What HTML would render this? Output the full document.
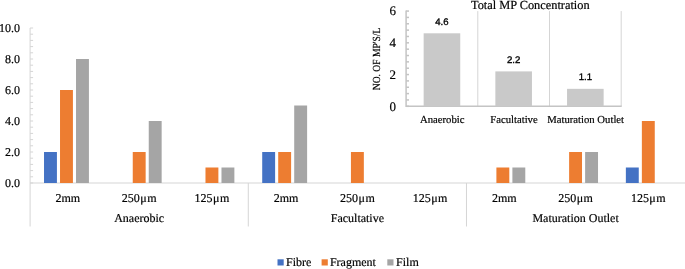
<!DOCTYPE html>
<html lang="en"><head><meta charset="utf-8"><title>Chart</title><style>html,body{margin:0;padding:0;background:#fff}body{width:685px;height:269px;overflow:hidden}</style></head><body>
<svg width="685" height="269" viewBox="0 0 685 269" text-rendering="geometricPrecision" style="display:block;font-family:'Liberation Serif','Times New Roman',serif">
<rect width="685" height="269" fill="#fff"/>
<g stroke="#D5D5D5" stroke-width="1" fill="none">
<line x1="30.1" y1="28.00" x2="30.1" y2="183.00"/>
<line x1="30.1" y1="183.00" x2="685" y2="183.00"/>
<line x1="30.1" y1="183.00" x2="33.1" y2="183.00"/>
<line x1="30.1" y1="176.80" x2="33.1" y2="176.80"/>
<line x1="30.1" y1="170.60" x2="33.1" y2="170.60"/>
<line x1="30.1" y1="164.40" x2="33.1" y2="164.40"/>
<line x1="30.1" y1="158.20" x2="33.1" y2="158.20"/>
<line x1="30.1" y1="152.00" x2="33.1" y2="152.00"/>
<line x1="30.1" y1="145.80" x2="33.1" y2="145.80"/>
<line x1="30.1" y1="139.60" x2="33.1" y2="139.60"/>
<line x1="30.1" y1="133.40" x2="33.1" y2="133.40"/>
<line x1="30.1" y1="127.20" x2="33.1" y2="127.20"/>
<line x1="30.1" y1="121.00" x2="33.1" y2="121.00"/>
<line x1="30.1" y1="114.80" x2="33.1" y2="114.80"/>
<line x1="30.1" y1="108.60" x2="33.1" y2="108.60"/>
<line x1="30.1" y1="102.40" x2="33.1" y2="102.40"/>
<line x1="30.1" y1="96.20" x2="33.1" y2="96.20"/>
<line x1="30.1" y1="90.00" x2="33.1" y2="90.00"/>
<line x1="30.1" y1="83.80" x2="33.1" y2="83.80"/>
<line x1="30.1" y1="77.60" x2="33.1" y2="77.60"/>
<line x1="30.1" y1="71.40" x2="33.1" y2="71.40"/>
<line x1="30.1" y1="65.20" x2="33.1" y2="65.20"/>
<line x1="30.1" y1="59.00" x2="33.1" y2="59.00"/>
<line x1="30.1" y1="52.80" x2="33.1" y2="52.80"/>
<line x1="30.1" y1="46.60" x2="33.1" y2="46.60"/>
<line x1="30.1" y1="40.40" x2="33.1" y2="40.40"/>
<line x1="30.1" y1="34.20" x2="33.1" y2="34.20"/>
<line x1="30.1" y1="28.00" x2="33.1" y2="28.00"/>
<line x1="30.10" y1="183.00" x2="30.10" y2="226.5"/>
<line x1="248.29" y1="183.00" x2="248.29" y2="226.5"/>
<line x1="466.48" y1="183.00" x2="466.48" y2="226.5"/>
</g>
<rect x="44.02" y="152.00" width="12.9" height="31.00" fill="#4472C4"/>
<rect x="60.02" y="90.00" width="12.9" height="93.00" fill="#ED7D31"/>
<rect x="76.02" y="59.00" width="12.9" height="124.00" fill="#A5A5A5"/>
<rect x="132.75" y="152.00" width="12.9" height="31.00" fill="#ED7D31"/>
<rect x="148.75" y="121.00" width="12.9" height="62.00" fill="#A5A5A5"/>
<rect x="205.48" y="167.50" width="12.9" height="15.50" fill="#ED7D31"/>
<rect x="221.48" y="167.50" width="12.9" height="15.50" fill="#A5A5A5"/>
<rect x="262.21" y="152.00" width="12.9" height="31.00" fill="#4472C4"/>
<rect x="278.21" y="152.00" width="12.9" height="31.00" fill="#ED7D31"/>
<rect x="294.21" y="105.50" width="12.9" height="77.50" fill="#A5A5A5"/>
<rect x="350.94" y="152.00" width="12.9" height="31.00" fill="#ED7D31"/>
<rect x="496.40" y="167.50" width="12.9" height="15.50" fill="#ED7D31"/>
<rect x="512.39" y="167.50" width="12.9" height="15.50" fill="#A5A5A5"/>
<rect x="569.12" y="152.00" width="12.9" height="31.00" fill="#ED7D31"/>
<rect x="585.12" y="152.00" width="12.9" height="31.00" fill="#A5A5A5"/>
<rect x="625.86" y="167.50" width="12.9" height="15.50" fill="#4472C4"/>
<rect x="641.86" y="121.00" width="12.9" height="62.00" fill="#ED7D31"/>
<g font-size="12" fill="#000" stroke="#000" stroke-width="0.18" text-anchor="end">
<text x="20" y="187.00">0.0</text>
<text x="20" y="156.00">2.0</text>
<text x="20" y="125.00">4.0</text>
<text x="20" y="94.00">6.0</text>
<text x="20" y="63.00">8.0</text>
<text x="20" y="32.00">10.0</text>
</g>
<g font-size="12" fill="#000" stroke="#000" stroke-width="0.18" text-anchor="middle">
<text x="67.87" y="202">2mm</text>
<text x="139.19" y="202">250<tspan dx="0.4">μ</tspan><tspan dx="0.5">m</tspan></text>
<text x="211.93" y="202">125<tspan dx="0.4">μ</tspan><tspan dx="0.5">m</tspan></text>
<text x="286.06" y="202">2mm</text>
<text x="357.39" y="202">250<tspan dx="0.4">μ</tspan><tspan dx="0.5">m</tspan></text>
<text x="430.12" y="202">125<tspan dx="0.4">μ</tspan><tspan dx="0.5">m</tspan></text>
<text x="504.25" y="202">2mm</text>
<text x="575.58" y="202">250<tspan dx="0.4">μ</tspan><tspan dx="0.5">m</tspan></text>
<text x="648.31" y="202">125<tspan dx="0.4">μ</tspan><tspan dx="0.5">m</tspan></text>
<text x="139.19" y="222">Anaerobic</text>
<text x="357.39" y="222">Facultative</text>
<text x="575.58" y="222">Maturation Outlet</text>
</g>
<g font-size="12" fill="#000" stroke="#000" stroke-width="0.18">
<rect x="277.5" y="259.3" width="6.2" height="6.2" stroke="none" fill="#4472C4"/><text x="286" y="266">Fibre</text>
<rect x="321.6" y="259.3" width="6.2" height="6.2" stroke="none" fill="#ED7D31"/><text x="329.9" y="266">Fragment</text>
<rect x="387.3" y="259.3" width="6.2" height="6.2" stroke="none" fill="#A5A5A5"/><text x="396.1" y="266">Film</text>
</g>
<rect x="365" y="0" width="262" height="128" fill="#fff"/>
<g stroke="#D5D5D5" stroke-width="1" fill="none">
<line x1="477.80" y1="11.08" x2="477.80" y2="106.3"/>
<line x1="549.50" y1="11.08" x2="549.50" y2="106.3"/>
<line x1="621.20" y1="11.08" x2="621.20" y2="106.3"/>
</g>
<g stroke="#C4C4C4" stroke-width="1.5" fill="none">
<line x1="406.1" y1="10.38" x2="406.1" y2="107.05"/>
<line x1="406.1" y1="106.3" x2="621.7" y2="106.3"/>
<line x1="406.1" y1="106.30" x2="409.0" y2="106.30"/>
<line x1="406.1" y1="99.95" x2="409.0" y2="99.95"/>
<line x1="406.1" y1="93.60" x2="409.0" y2="93.60"/>
<line x1="406.1" y1="87.26" x2="409.0" y2="87.26"/>
<line x1="406.1" y1="80.91" x2="409.0" y2="80.91"/>
<line x1="406.1" y1="74.56" x2="409.0" y2="74.56"/>
<line x1="406.1" y1="68.21" x2="409.0" y2="68.21"/>
<line x1="406.1" y1="61.86" x2="409.0" y2="61.86"/>
<line x1="406.1" y1="55.52" x2="409.0" y2="55.52"/>
<line x1="406.1" y1="49.17" x2="409.0" y2="49.17"/>
<line x1="406.1" y1="42.82" x2="409.0" y2="42.82"/>
<line x1="406.1" y1="36.47" x2="409.0" y2="36.47"/>
<line x1="406.1" y1="30.12" x2="409.0" y2="30.12"/>
<line x1="406.1" y1="23.78" x2="409.0" y2="23.78"/>
<line x1="406.1" y1="17.43" x2="409.0" y2="17.43"/>
<line x1="406.1" y1="11.08" x2="409.0" y2="11.08"/>
</g>
<rect x="423.65" y="33.30" width="36.6" height="73.00" fill="#C9C9C9"/>
<text x="441.95" y="24.90" font-family="'Liberation Sans',Arial,sans-serif" font-size="9.6" text-anchor="middle" fill="#000" stroke="#000" stroke-width="0.32">4.6</text>
<text x="442.25" y="122.6" font-size="10.7" text-anchor="middle" fill="#000" stroke="#000" stroke-width="0.18">Anaerobic</text>
<rect x="495.35" y="71.39" width="36.6" height="34.91" fill="#C9C9C9"/>
<text x="513.65" y="62.99" font-family="'Liberation Sans',Arial,sans-serif" font-size="9.6" text-anchor="middle" fill="#000" stroke="#000" stroke-width="0.32">2.2</text>
<text x="513.95" y="122.6" font-size="10.7" text-anchor="middle" fill="#000" stroke="#000" stroke-width="0.18">Facultative</text>
<rect x="567.05" y="88.84" width="36.6" height="17.46" fill="#C9C9C9"/>
<text x="585.35" y="80.44" font-family="'Liberation Sans',Arial,sans-serif" font-size="9.6" text-anchor="middle" fill="#000" stroke="#000" stroke-width="0.32">1.1</text>
<text x="585.65" y="122.6" font-size="10.7" text-anchor="middle" fill="#000" stroke="#000" stroke-width="0.18">Maturation Outlet</text>
<g font-size="13" fill="#000" stroke="#000" stroke-width="0.18" text-anchor="end">
<text x="396" y="110.70">0</text>
<text x="396" y="78.96">2</text>
<text x="396" y="47.22">4</text>
<text x="396" y="15.48">6</text>
</g>
<text x="530.3" y="9.1" font-size="12.35" text-anchor="middle" fill="#000" stroke="#000" stroke-width="0.18">Total MP Concentration</text>
<text transform="translate(380.0 59.0) rotate(-90) scale(0.885 1)" font-size="10.8" text-anchor="middle" fill="#000" stroke="#000" stroke-width="0.18">NO. OF MP'S/L</text>
</svg>
</body></html>
